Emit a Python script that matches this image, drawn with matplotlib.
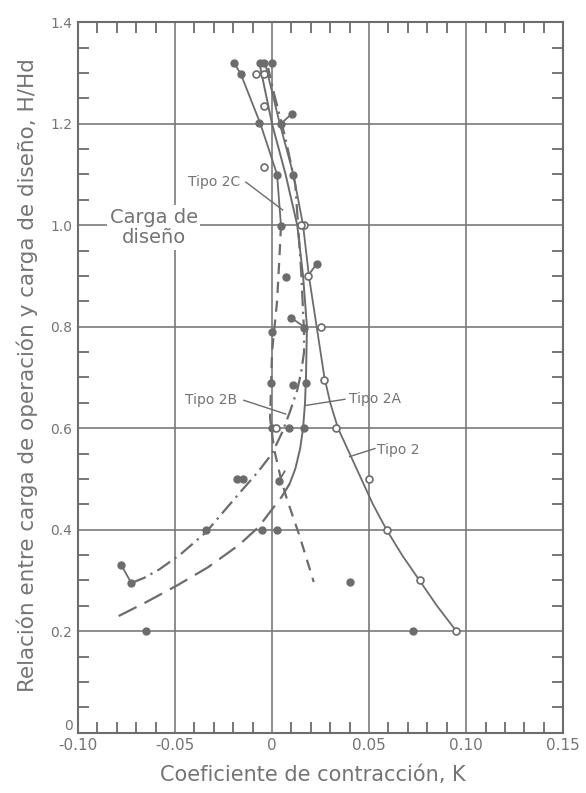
import matplotlib
matplotlib.use("Agg")
import matplotlib.pyplot as plt
from matplotlib.ticker import MultipleLocator
from matplotlib.transforms import ScaledTranslation

# Coeficiente de contraccion K vs H/Hd

# Tipo 2 - linea continua con circulos abiertos
tipo2_k = [0.095, 0.085, 0.076, 0.067, 0.059, 0.052, 0.046, 0.040, 0.034, 0.030,
           0.027, 0.025, 0.023, 0.021, 0.019, 0.016, 0.011, 0.004, -0.003]
tipo2_h = [0.20, 0.25, 0.30, 0.35, 0.40, 0.45, 0.50, 0.55, 0.60, 0.65,
           0.70, 0.75, 0.80, 0.85, 0.90, 1.00, 1.10, 1.20, 1.31]
tipo2_pts_k = [0.095, 0.076, 0.059, 0.050, 0.033, 0.027, 0.025, 0.0185, 0.0165]
tipo2_pts_h = [0.20, 0.30, 0.40, 0.50, 0.60, 0.695, 0.80, 0.90, 1.00]

# Tipo 2A - trazos largos abajo, continua arriba
tipo2a_low_k = [-0.079, -0.065, -0.049, -0.033, -0.017, -0.007, 0.0, 0.005, 0.009]
tipo2a_low_h = [0.23, 0.257, 0.29, 0.326, 0.37, 0.405, 0.44, 0.465, 0.49]
tipo2a_up_k = [0.009, 0.012, 0.0145, 0.016, 0.017, 0.0175, 0.018, 0.017, 0.016, 0.013,
               0.007, 0.0, -0.006]
tipo2a_up_h = [0.49, 0.52, 0.56, 0.60, 0.65, 0.70, 0.80, 0.85, 0.90, 1.00,
               1.10, 1.20, 1.31]

# Tipo 2B - trazo y punto
tipo2b_k = [-0.0725, -0.066, -0.058, -0.047, -0.034, -0.024, -0.015, -0.007, 0.0, 0.005,
            0.009, 0.013, 0.015, 0.0165, 0.0165, 0.015, 0.012, 0.007, 0.001, -0.002]
tipo2b_h = [0.295, 0.305, 0.322, 0.352, 0.395, 0.44, 0.48, 0.515, 0.55, 0.59,
            0.63, 0.675, 0.71, 0.75, 0.79, 0.91, 1.08, 1.17, 1.26, 1.31]

# Tipo 2C - continua arriba, trazos cortos abajo
tipo2c_up_k = [-0.016, -0.006, 0.0026, 0.0046]
tipo2c_up_h = [1.297, 1.20, 1.10, 1.00]
tipo2c_low_k = [0.0046, 0.004, 0.0026, 0.0, -0.001, 0.001, 0.0046, 0.0077, 0.014, 0.0215]
tipo2c_low_h = [1.00, 0.95, 0.85, 0.75, 0.62, 0.56, 0.50, 0.46, 0.39, 0.297]

# Puntos llenos
lleno_k = [-0.065, 0.0725, 0.040, -0.0725, -0.0776, -0.034, -0.005, 0.0026, -0.018, -0.015,
           0.0036, 0.0, 0.0087, 0.0165, -0.0005, 0.011, 0.0175, 0.0, 0.010, 0.0165,
           0.0072, 0.023, 0.0046, 0.0026, 0.011, -0.0067, 0.0046, 0.0103, -0.0195, -0.016,
           -0.006, -0.004, 0.0]
lleno_h = [0.20, 0.20, 0.297, 0.295, 0.33, 0.40, 0.40, 0.40, 0.50, 0.50,
           0.496, 0.60, 0.60, 0.60, 0.69, 0.686, 0.69, 0.79, 0.817, 0.797,
           0.898, 0.924, 0.998, 1.099, 1.099, 1.202, 1.20, 1.22, 1.32, 1.297,
           1.32, 1.32, 1.32]

# Puntos abiertos adicionales
abierto_k = [0.002, 0.015, -0.004, -0.004, -0.008, -0.004]
abierto_h = [0.60, 1.00, 1.114, 1.235, 1.297, 1.297]

# Colas de algunos puntos: (k1, h1, k2, h2)
colas = [(-0.0776, 0.33, -0.0725, 0.295),
         (0.010, 0.817, 0.0165, 0.80),
         (0.023, 0.924, 0.0185, 0.90),
         (0.0103, 1.22, 0.0046, 1.20),
         (-0.0195, 1.32, -0.016, 1.297),
         (0.0036, 0.496, 0.0065, 0.515)]

x_ticks = [-0.10, -0.05, 0, 0.05, 0.10, 0.15]
x_labels = ["-0.10", "-0.05", "0", "0.05", "0.10", "0.15"]
y_ticks = [0, 0.2, 0.4, 0.6, 0.8, 1.0, 1.2, 1.4]
y_labels = ["0", "0.2", "0.4", "0.6", "0.8", "1.0", "1.2", "1.4"]

GRIS = '#6c6c6c'
GRIS_TXT = '#747474'

fig = plt.figure(figsize=(5.86, 7.93), dpi=100)
ax = fig.add_axes([0.133, 0.076, 0.828, 0.896])

# Curvas
ax.plot(tipo2_k, tipo2_h, color=GRIS, lw=1.3, zorder=3)
ax.plot(tipo2a_low_k, tipo2a_low_h, color=GRIS, lw=1.6, dashes=(9, 4), zorder=3)
ax.plot(tipo2a_up_k, tipo2a_up_h, color=GRIS, lw=1.4, zorder=3)
ax.plot(tipo2b_k, tipo2b_h, color=GRIS, lw=1.6, dashes=(7, 2.5, 1, 2.5), zorder=3)
ax.plot(tipo2c_up_k, tipo2c_up_h, color=GRIS, lw=1.3, zorder=3)
ax.plot(tipo2c_low_k, tipo2c_low_h, color=GRIS, lw=1.6, dashes=(5, 3.5), zorder=3)

for k1, h1, k2, h2 in colas:
    ax.plot([k1, k2], [h1, h2], color=GRIS, lw=1.3, zorder=3)

# Puntos
ax.plot(lleno_k, lleno_h, 'o', color=GRIS, ms=5, zorder=4)
ax.plot(tipo2_pts_k, tipo2_pts_h, 'o', mfc='white', mec=GRIS, mew=1.2, ms=5, zorder=5)
ax.plot(abierto_k, abierto_h, 'o', mfc='white', mec=GRIS, mew=1.2, ms=5, zorder=5)

# Etiquetas de curvas
ax.text(-0.030, 1.085, "Tipo 2C", fontsize=10, color=GRIS_TXT, ha='center', va='center')
ax.plot([-0.0135, 0.0055], [1.085, 1.03], color=GRIS, lw=1.0)
ax.text(-0.0315, 0.655, "Tipo 2B", fontsize=10, color=GRIS_TXT, ha='center', va='center')
ax.plot([-0.0145, 0.007], [0.655, 0.628], color=GRIS, lw=1.0)
ax.text(0.053, 0.657, "Tipo 2A", fontsize=10, color=GRIS_TXT, ha='center', va='center')
ax.plot([0.0375, 0.0175], [0.657, 0.645], color=GRIS, lw=1.0)
ax.text(0.065, 0.558, "Tipo 2", fontsize=10, color=GRIS_TXT, ha='center', va='center')
ax.plot([0.053, 0.040], [0.56, 0.544], color=GRIS, lw=1.0)

ax.text(-0.061, 0.995, "Carga de\ndiseño", fontsize=14, color=GRIS_TXT,
        ha='center', va='center', linespacing=1.1,
        bbox=dict(facecolor='white', edgecolor='none', pad=2), zorder=2)

ax.set_xlim(-0.10, 0.15)
ax.set_ylim(0, 1.4)
ax.set_xticks(x_ticks)
ax.set_xticklabels(x_labels)
ax.set_yticks(y_ticks)
ax.set_yticklabels(y_labels)
ax.xaxis.set_minor_locator(MultipleLocator(0.01))
ax.yaxis.set_minor_locator(MultipleLocator(0.05))
ax.tick_params(which='both', direction='in', top=True, right=True, colors=GRIS)
ax.tick_params(which='major', length=0, labelsize=11, labelcolor=GRIS_TXT, pad=4)
ax.tick_params(which='minor', length=8, width=1.3)
ax.tick_params(axis='y', which='major', labelsize=10)
ax.grid(True, which='major', color='#7a7a7a', lw=1.2)
ax.set_axisbelow(True)
for s in ax.spines.values():
    s.set_color(GRIS)
    s.set_linewidth(1.5)

# el "0" del eje y queda un poco por encima del "-0.10"
lbl0 = ax.get_yticklabels()[0]
lbl0.set_transform(lbl0.get_transform() + ScaledTranslation(0, 6 / 72, fig.dpi_scale_trans))

fig.text(313 / 586, 1 - 775 / 793, "Coeficiente de contracción, K", fontsize=15,
         color=GRIS_TXT, ha='center', va='center')
fig.text(27 / 586, 1 - 375 / 793,
         "Relación entre carga de operación y carga de diseño, H/Hd",
         fontsize=15.5, color=GRIS_TXT, ha='center', va='center', rotation=90)

plt.savefig("out.png", dpi=100)
plt.close()
